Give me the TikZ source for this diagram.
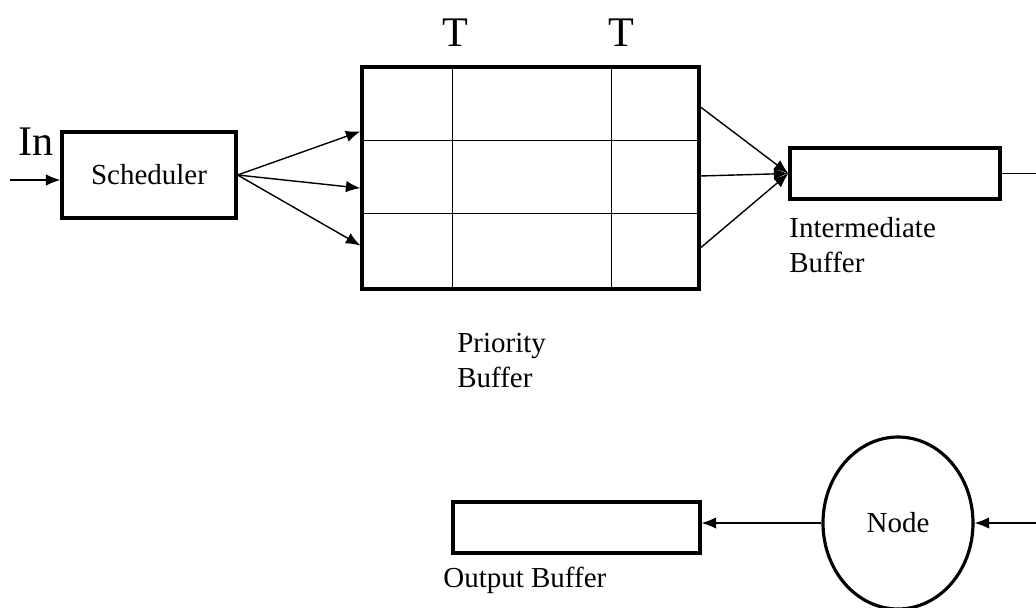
\documentclass[tikz,border=0pt]{standalone}
\usepackage{fontspec}
\setmainfont{Liberation Serif}
\usepackage{xcolor}
\usetikzlibrary{calc,arrows.meta,shapes.geometric}
\definecolor{inkBlack}{RGB}{0,0,0}
\tikzset{
  bufBox/.style={draw=inkBlack,line width=1.8pt,minimum height=1.02cm},
  gridLine/.style={draw=inkBlack,line width=0.5pt},
  flowArrow/.style={-{Latex[length=2.9mm,width=2.3mm]},draw=inkBlack,line width=0.8pt},
  labelTxt/.style={font=\fontsize{16.5}{20.4}\selectfont,text=inkBlack,inner sep=0pt,align=left,anchor=west},
  bigTxt/.style={font=\fontsize{24}{28}\selectfont,text=inkBlack,inner sep=0pt}
}

\begin{document}
\begin{tikzpicture}
\useasboundingbox (0,0) rectangle (20.72,-12.14);
\node[bigTxt] (inlabel) at (0.72,-2.84) {In};
\coordinate (inpt) at (0.2,-3.6);
\node[bufBox,minimum width=3.48cm,minimum height=1.72cm,font=\fontsize{16.5}{20.4}\selectfont] (sched) at (2.98,-3.5) {Scheduler};
\node[bufBox,minimum width=6.74cm,minimum height=4.44cm] (prio) at (10.61,-3.56) {};
\draw[gridLine] ($(prio.north west)!0.27!(prio.north east)$) -- ($(prio.south west)!0.27!(prio.south east)$);
\draw[gridLine] ($(prio.north west)!0.739!(prio.north east)$) -- ($(prio.south west)!0.739!(prio.south east)$);
\draw[gridLine] ($(prio.north west)!0.333!(prio.south west)$) -- ($(prio.north east)!0.333!(prio.south east)$);
\draw[gridLine] ($(prio.north west)!0.658!(prio.south west)$) -- ($(prio.north east)!0.658!(prio.south east)$);
\node[bigTxt] (tleft) at (9.1,-0.66) {T};
\node[bigTxt] (tright) at (12.42,-0.66) {T};
\node[labelTxt] (prioname) at (9.14,-7.21) {Priority\\Buffer};
\node[bufBox,minimum width=4.2cm] (interm) at (17.9,-3.47) {};
\node[labelTxt] (intername) at (15.78,-4.9) {Intermediate\\Buffer};
\coordinate (iout) at (20.72,-3.44);
\node[bufBox,minimum width=4.94cm] (outbuf) at (11.53,-10.55) {};
\node[labelTxt] (outname) at (8.86,-11.6) {Output Buffer};
\node[ellipse,draw=inkBlack,line width=1.8pt,minimum width=3.0cm,minimum height=3.44cm,font=\fontsize{16.5}{20.4}\selectfont] (relay) at (17.96,-10.46) {Node};
\coordinate (nin) at (20.72,-10.46);
% input side
\draw[flowArrow] (inpt) -- (sched.west |- inpt);
\draw[flowArrow] (sched.east) -- ($(prio.north west)!0.293!(prio.south west)$);
\draw[flowArrow] (sched.east) -- ($(prio.north west)!0.545!(prio.south west)$);
\draw[flowArrow] (sched.east) -- ($(prio.north west)!0.80!(prio.south west)$);
% priority to intermediate
\draw[flowArrow] ($(prio.north east)!0.185!(prio.south east)$) -- (interm.west);
\draw[flowArrow] ($(prio.north east)!0.491!(prio.south east)$) -- (interm.west);
\draw[flowArrow] ($(prio.north east)!0.81!(prio.south east)$) -- (interm.west);
\draw[draw=inkBlack,line width=0.8pt] (interm.east) -- (interm.east -| iout);
% output side
\draw[flowArrow] (nin) -- (relay.east);
\draw[flowArrow] (relay.west) -- (relay.west -| outbuf.east);
\end{tikzpicture}
\end{document}
